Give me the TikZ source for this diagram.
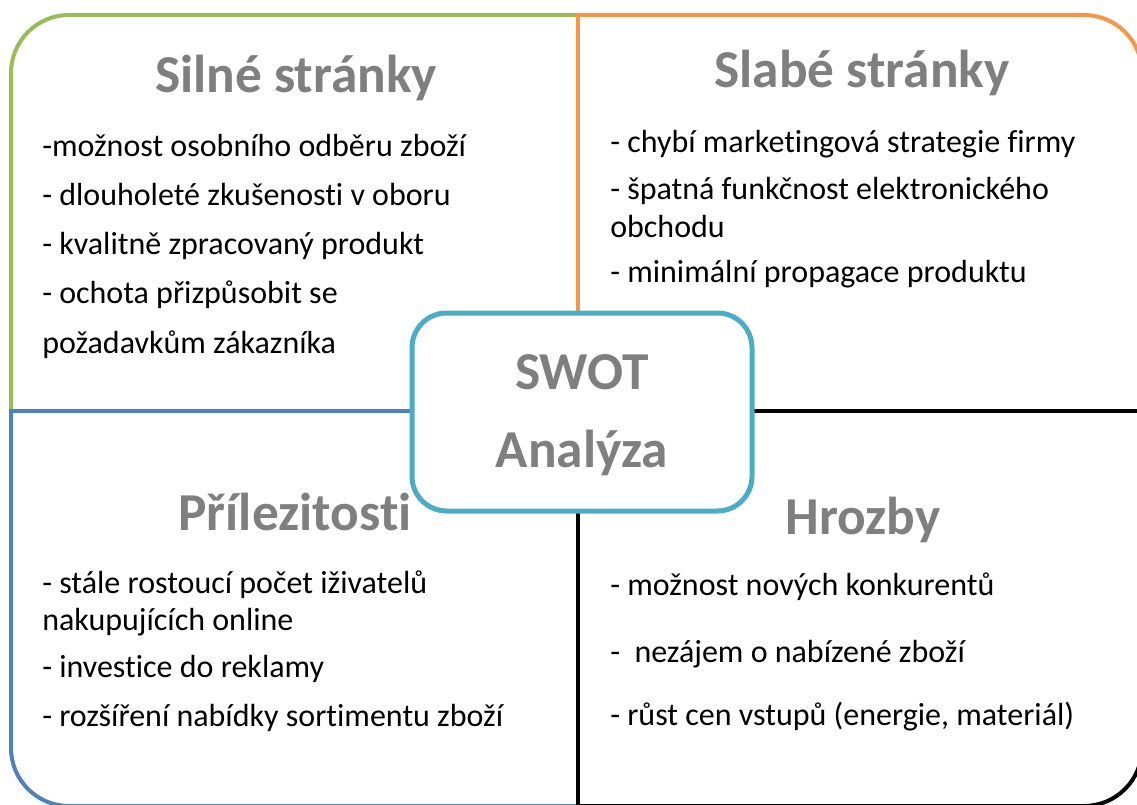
\documentclass[tikz,border=0pt]{standalone}
\usepackage{fontspec}
\setmainfont[Ligatures=NoCommon]{Carlito}
\definecolor{sgreen}{HTML}{9BBB59}
\definecolor{sorange}{HTML}{F79646}
\definecolor{sblue}{HTML}{4F81BD}
\definecolor{steal}{HTML}{4BACC6}
\definecolor{titlegray}{HTML}{7F7F7F}
\begin{document}
\begin{tikzpicture}[x=0.75pt,y=-0.75pt,
  quad/.style={line width=3pt},
  outerframe/.style={quad, rounded corners=43.5pt},
  qtitle/.style={font=\fontsize{40}{48}\selectfont\bfseries, text=titlegray, anchor=base, inner sep=0pt},
  item/.style={font=\fontsize{24}{28.5}\selectfont, anchor=base west, inner sep=0pt},
  centerbox/.style={draw=steal, line width=3.75pt, fill=white, rounded corners=26pt,
    minimum width=255pt, minimum height=148.5pt, inner sep=0pt, outer sep=0pt}
]
\useasboundingbox (0,0) rectangle (1137,805);
\clip (0,0) rectangle (1137,805);
\fill[white] (0,0) rectangle (1137,805);
% strengths (green)
\begin{scope}
  \clip (0,0) rectangle (578,411);
  \draw[outerframe, sgreen] (11,15) rectangle (1142,806);
\end{scope}
% weaknesses (orange)
\begin{scope}
  \clip (578,0) rectangle (1137,411);
  \draw[outerframe, sorange] (11,15) rectangle (1142,806);
\end{scope}
\draw[quad, sorange] (578,13) -- (578,411);
% opportunities (blue)
\begin{scope}
  \clip (0,411) rectangle (578,805);
  \draw[outerframe, sblue] (11,15) rectangle (1142,806);
\end{scope}
\draw[quad, sblue] (9,411) -- (578,411);
% threats (black)
\begin{scope}
  \clip (578,411) rectangle (1137,805);
  \draw[outerframe, black] (11,15) rectangle (1142,806);
\end{scope}
\draw[quad, black] (578,411) -- (1140,411);
\draw[quad, black] (578,411) -- (578,808);

% center box
\node[centerbox] (swot) at (582,412) {};
\node[qtitle] (swott1) at (582,389) {SWOT};
\node[qtitle] (swott2) at (582,467) {Analýza};

% titles
\node[qtitle] (ts) at (296,93) {Silné stránky};
\node[qtitle] (tw) at (862,88) {Slabé stránky};
\node[qtitle] (to) at (295,530) {Přílezitosti};
\node[qtitle] (tt) at (863,534) {Hrozby};

% strengths items
\node[item] (s1) at (42,157) {-možnost osobního odběru zboží};
\node[item] (s2) at (42,206) {- dlouholeté zkušenosti v oboru};
\node[item] (s3) at (42,255) {- kvalitně zpracovaný produkt};
\node[item] (s4) at (42,304) {- ochota přizpůsobit se};
\node[item] (s5) at (42,353) {požadavkům zákazníka};

% weaknesses items
\node[item] (w1) at (610,153) {- chybí marketingová strategie firmy};
\node[item] (w2) at (610,200) {- špatná funkčnost elektronického};
\node[item] (w2b) at (610,238) {obchodu};
\node[item] (w3) at (610,283) {- minimální propagace produktu};

% opportunities items
\node[item] (o1) at (42,593) {- stále rostoucí počet iživatelů};
\node[item] (o1b) at (42,630) {nakupujících online};
\node[item] (o2) at (42,677) {- investice do reklamy};
\node[item] (o3) at (42,726) {- rozšíření nabídky sortimentu zboží};

% threats items
\node[item] (h1) at (610,595) {- možnost nových konkurentů};
\node[item] (h2) at (610,662) {-\ \ nezájem o nabízené zboží};
\node[item] (h3) at (610,725) {- růst cen vstupů (energie, materiál)};
\end{tikzpicture}
\end{document}
